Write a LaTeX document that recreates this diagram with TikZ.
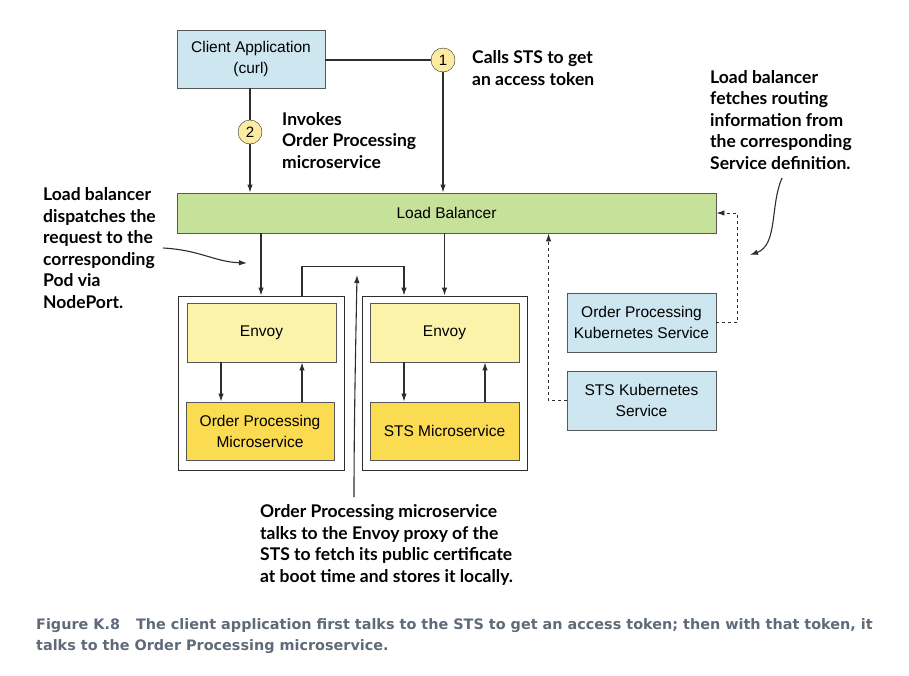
\documentclass[tikz,border=0pt]{standalone}
\usepackage{fontspec}
\setmainfont{Liberation Sans}
\newfontfamily\notefont{Lato}
\newfontfamily\capfont{DejaVu Sans}
\usetikzlibrary{arrows.meta, positioning, calc}
\definecolor{clientblue}{RGB}{205,230,240}
\definecolor{lbgreen}{RGB}{198,225,154}
\definecolor{envoyyellow}{RGB}{252,243,170}
\definecolor{msyellow}{RGB}{250,219,82}
\definecolor{badgeyellow}{RGB}{252,235,160}
\definecolor{linegray}{RGB}{45,45,45}
\definecolor{captiongray}{RGB}{95,107,120}

\begin{document}
\begin{tikzpicture}[x=1pt,y=-1pt,
    box/.style={draw=linegray!80,line width=0.9pt,minimum width=149pt,minimum height=59pt,align=center,inner sep=2pt,font=\fontsize{15.5}{21}\selectfont},
    pod/.style={draw=linegray,line width=0.9pt,fill=white,minimum width=166pt,minimum height=174pt},
    badge/.style={draw=linegray,circle,fill=badgeyellow,minimum size=24pt,inner sep=0pt,font=\fontsize{15}{15}\selectfont},
    note/.style={align=left,inner sep=0pt,font=\notefont\bfseries\fontsize{17.5}{21.5}\selectfont},
    link/.style={draw=linegray,line width=1.1pt},
    tip/.style={-{Latex[length=8pt,width=5.5pt]}}]
    \useasboundingbox (0,0) rectangle (909,675);

    % Client and load balancer
    \node[box,fill=clientblue,minimum width=148pt,minimum height=58pt] (client) at (251,59) {Client Application\\(curl)};
    \node[box,fill=lbgreen,minimum width=539pt,minimum height=40pt] (lb) at (446.5,213) {Load Balancer};

    % Step badges
    \node[badge] (one) at (443,60) {1};
    \node[badge] (two) at (250,132) {2};

    % Pods
    \node[pod] (pod1) at (261,383) {};
    \node[box,fill=envoyyellow] (envoy1) at (261.5,332.5) {Envoy};
    \node[box,fill=msyellow,minimum width=148pt,minimum height=58pt] (opms) at (260,431) {Order Processing\\Microservice};
    \node[pod,minimum width=165pt] (pod2) at (444.5,383) {};
    \node[box,fill=envoyyellow] (envoy2) at (444.5,332.5) {Envoy};
    \node[box,fill=msyellow,minimum height=58pt] (stsms) at (444.5,431) {STS Microservice};

    % Kubernetes services
    \node[box,fill=clientblue] (opk8s) at (641.5,322.5) {Order Processing\\Kubernetes Service};
    \node[box,fill=clientblue] (stsk8s) at (641.5,400.5) {STS Kubernetes\\Service};

    % Notes (anchored on the baseline of their last line)
    \node[note,anchor=base west] (callnote) at (472,85) {Calls STS to get\\an access token};
    \node[note,anchor=base west] (invokenote) at (282,168) {Invokes\\Order Processing\\microservice};
    \node[note,anchor=base west] (dispatchnote) at (43,308) {Load balancer\\dispatches the\\request to the\\corresponding\\Pod via\\NodePort.};
    \node[note,anchor=base west] (fetchnote) at (710,169) {Load balancer\\fetches routing\\information from\\the corresponding\\Service definition.};
    \node[note,anchor=base west] (certnote) at (260,582) {Order Processing microservice\\talks to the Envoy proxy of the\\STS to fetch its public certificate\\at boot time and stores it locally.};

    % Caption
    \node[anchor=base west,align=left,inner sep=0pt,text=captiongray,font=\capfont\bfseries\fontsize{14.4}{20.5}\selectfont] (caption) at (36,650)
        {Figure K.8\hspace{16pt}The client application first talks to the STS to get an access token; then with that token, it\\talks to the Order Processing microservice.};

    % Client requests
    \draw[link] (client.east |- one) -- (one.west);
    \draw[link,tip] (one.south) -- (one |- lb.north);
    \draw[link] (two |- client.south) -- (two.north);
    \draw[link,tip] (two.south) -- (two |- lb.north);

    % Load balancer to pods
    \draw[link,tip] (pod1.north |- lb.south) -- (pod1.north);
    \draw[link,tip] (pod2.north |- lb.south) -- (pod2.north);
    \draw[link,tip] ([xshift=41]pod1.north) -- ++(0,-29) -| ([xshift=-40.5]pod2.north);

    % Inside the pods
    \draw[link,tip] ([xshift=-40.5]envoy1.south) -- ([xshift=-40.5]envoy1.south |- opms.north);
    \draw[link,tip] ([xshift=40.5]envoy1.south |- opms.north) -- ([xshift=40.5]envoy1.south);
    \draw[link,tip] ([xshift=-40.5]envoy2.south) -- ([xshift=-40.5]envoy2.south |- stsms.north);
    \draw[link,tip] ([xshift=40.5]envoy2.south |- stsms.north) -- ([xshift=40.5]envoy2.south);

    % Service lookups
    \coordinate (opbend) at ([xshift=21]opk8s.east);
    \coordinate (stsbend) at ([xshift=-18]stsk8s.west);
    \draw[link,line width=0.9pt,dashed,tip] (opk8s.east) -- (opbend) -- (opbend |- lb.east) -- (lb.east);
    \draw[link,line width=0.9pt,dashed,tip] (stsk8s.west) -- (stsbend) -- (stsbend |- lb.south);

    % Note pointers
    \coordinate (dispatchfrom) at (163,248);
    \coordinate (dispatchto) at (247,263);
    \coordinate (fetchfrom) at (782,178);
    \coordinate (fetchto) at (750,255);
    \coordinate (certfrom) at (354,497);
    \coordinate (certto) at (357,275);
    \draw[link,tip] (dispatchfrom) .. controls (200,250) and (215,262) .. (dispatchto);
    \draw[link,tip] (fetchfrom) .. controls (770,205) and (778,245) .. (fetchto);
    \draw[link,tip] (certfrom) .. controls (354,420) and (356,330) .. (certto);
\end{tikzpicture}
\end{document}
